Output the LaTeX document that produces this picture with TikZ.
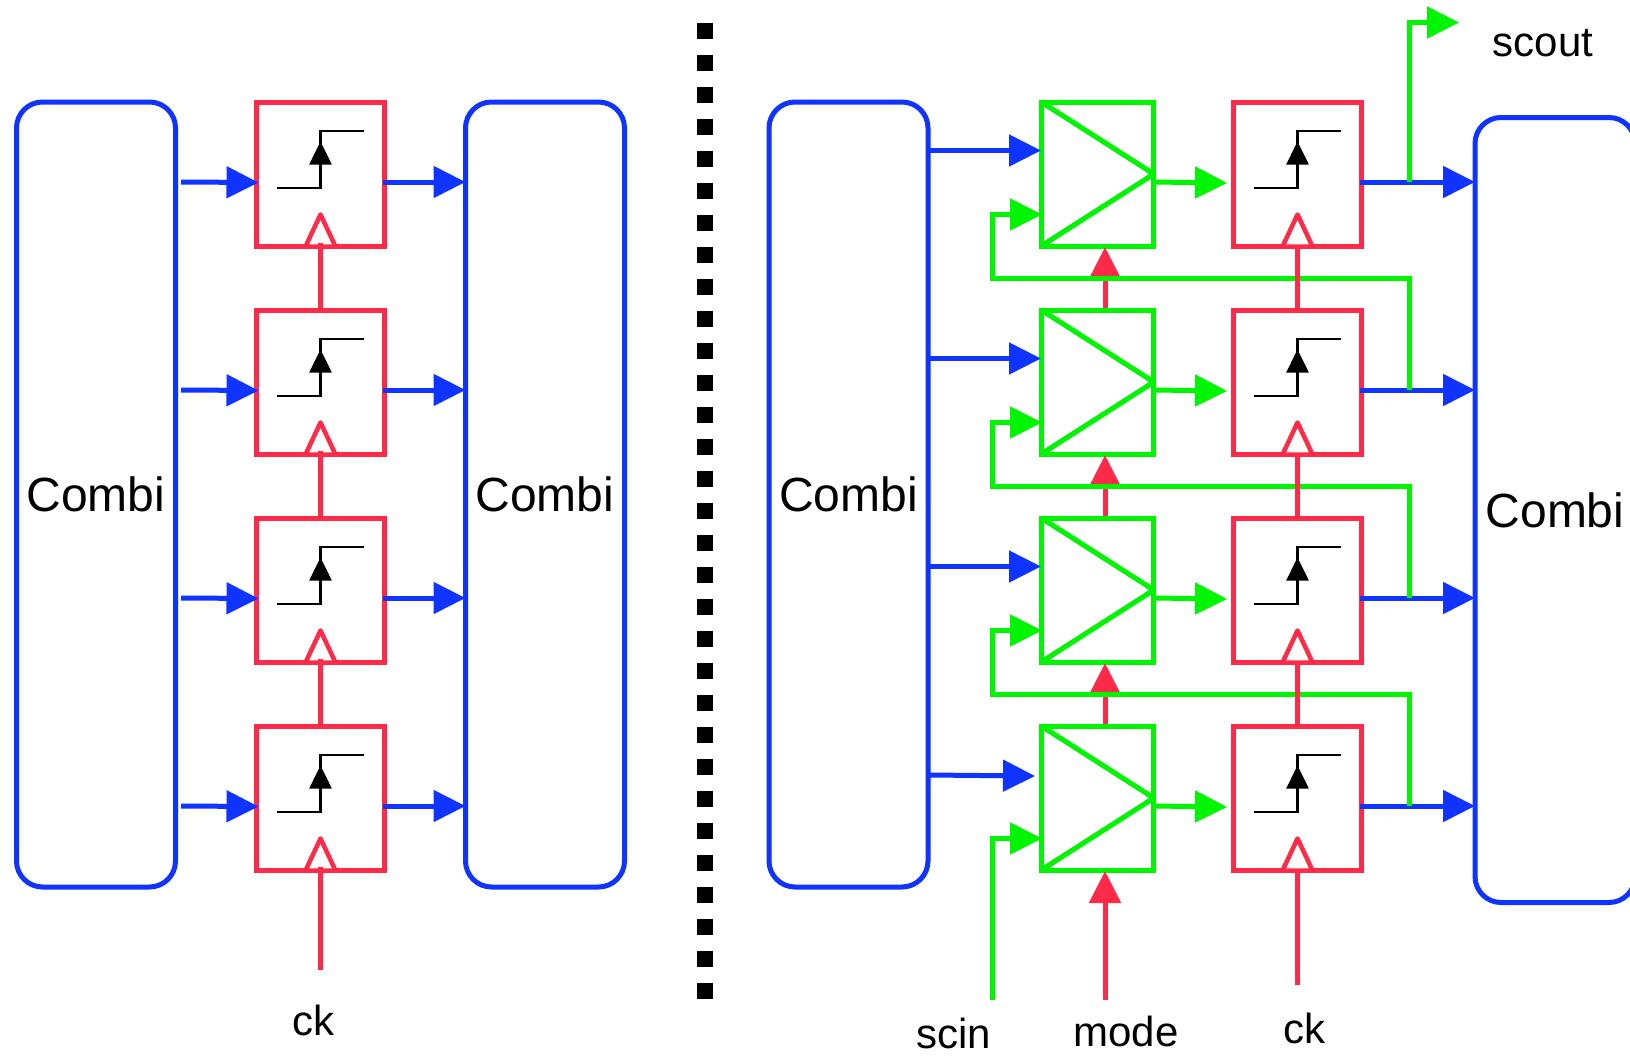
\documentclass[tikz,border=0pt]{standalone}
\usepackage{fontspec}
\setmainfont{Liberation Sans}
\usetikzlibrary{arrows.meta}
\definecolor{cblue}{RGB}{15,52,255}
\definecolor{cred}{RGB}{255,42,72}
\definecolor{cgreen}{RGB}{0,245,0}
\tikzset{
  wire/.style={line width=5pt,line cap=butt},
  tip/.style={-{Triangle[length=32pt,width=31pt]}},
  bluewire/.style={wire,draw=cblue},
  redwire/.style={wire,draw=cred},
  greenwire/.style={wire,draw=cgreen,line join=miter},
  combi/.style={draw=cblue,line width=5pt,rounded corners=26pt,minimum width=159pt,minimum height=785pt,inner sep=0pt,outer sep=0pt,font=\fontsize{48}{51}\selectfont},
  ffbox/.style={draw=cred,fill=white,line width=5.5pt,minimum width=128pt,minimum height=144pt,outer sep=0pt,inner sep=0pt},
  muxbox/.style={draw=cgreen,line width=5pt,minimum width=112.5pt,minimum height=144pt,outer sep=0pt,inner sep=0pt},
  label/.style={font=\fontsize{42}{45}\selectfont,inner sep=0pt},
  wave/.style={draw=black,line width=2.6pt},
  wavehead/.style={-{Triangle[length=23pt,width=22pt]}},
  clk/.style={draw=cred,fill=white,line width=4.5pt,line join=round},
}
\newcommand{\ffinside}[1]{%
  \coordinate (#1wa) at ([xshift=-43.5pt,yshift=-13.5pt]#1.center);
  \coordinate (#1wb) at ([yshift=-13.5pt]#1.center);
  \coordinate (#1wc) at ([yshift=43.5pt]#1.center);
  \coordinate (#1wd) at ([xshift=43.5pt,yshift=43.5pt]#1.center);
  \coordinate (#1we) at ([yshift=33pt]#1.center);
  \draw[wave,line join=miter] (#1wa) -- (#1wb) -- (#1wc) -- (#1wd);
  \draw[wave,wavehead] (#1wb) -- (#1we);
  \draw[clk] ([xshift=-15pt,yshift=-72pt]#1.center) -- ([yshift=-40pt]#1.center) -- ([xshift=15pt,yshift=-72pt]#1.center) -- cycle;
}
\begin{document}
\begin{tikzpicture}[x=1pt,y=-1pt]
\useasboundingbox (0,0) rectangle (1630,1055);
\clip (0,0) rectangle (1630,1055);
\fill[white] (0,0) rectangle (1630,1055);

% combinational blocks
\node[combi] (c1) at (96,494.5) {Combi};
\node[combi] (c2) at (545,494.5) {Combi};
\node[combi] (c3) at (848.5,494.5) {Combi};
\node[combi,minimum width=160pt] (c4) at (1555,510) {Combi};

% divider
\coordinate (da) at (705,23);
\coordinate (db) at (705,999);
\draw[black,line width=16.5pt,dash pattern=on 16pt off 16pt] (da) -- (db);

% left flip flops and their wiring
\foreach \r/\y in {1/174.5,2/382.5,3/590.5,4/798.5}{
  \node[ffbox] (f\r) at (320.5,\y) {};
  \ffinside{f\r}
  \coordinate (fin\r) at (181,\y+7.5);
  \draw[bluewire,tip] (fin\r) -- ([yshift=-8pt,xshift=2pt]f\r.west);
  \draw[bluewire,tip] ([yshift=-7.5pt,xshift=-2pt]f\r.east) -- (c2.west |- {0,\y+7.5});
}
\draw[redwire] ([yshift=4pt]f1.south) -- (f2.north);
\draw[redwire] ([yshift=4pt]f2.south) -- (f3.north);
\draw[redwire] ([yshift=4pt]f3.south) -- (f4.north);
\coordinate (ckl) at (320.5,970);
\draw[redwire] (ckl) -- ([yshift=4pt]f4.south);

% right muxes and flip flops
\foreach \r/\y in {1/174,2/382,3/590,4/798}{
  \node[muxbox] (m\r) at (1097.5,\y) {};
  \draw[draw=cgreen,line width=5pt,line join=round] (m\r.north west) -- (m\r.east) -- (m\r.south west);
}
\foreach \r/\y in {1/174.5,2/382.5,3/590.5,4/798.5}{
  \node[ffbox] (g\r) at (1297.5,\y) {};
  \coordinate (in\r) at (1042,\y+40);
  \coordinate (tap\r) at (1409.5,\y+7.5);
  \coordinate (mo\r) at (1227,\y+8.5);
  \draw[bluewire,tip] ([yshift=-7.5pt,xshift=-2pt]g\r.east) -- (c4.west |- {0,\y+7.5});
  \draw[greenwire,tip] ([yshift=-8pt]m\r.east) -- (mo\r);
}
\coordinate (sa1) at (c3.east |- {0,150.5});
\coordinate (sa2) at (c3.east |- {0,358.5});
\coordinate (sa3) at (c3.east |- {0,566.5});
\coordinate (sa4) at (c3.east |- {0,775});
\coordinate (ea1) at (1041,150.5);
\coordinate (ea2) at (1041,358.5);
\coordinate (ea3) at (1041,566.5);
\coordinate (ea4) at (1035,776);
\foreach \r in {1,2,3,4}{\draw[bluewire,tip] (sa\r) -- (ea\r);}

% mode lines
\coordinate (modein) at (1105,1000);
\draw[redwire,tip] (modein) -- (1105,871);
\draw[redwire,tip] (1105,724) -- (1105,663);
\draw[redwire,tip] (1105,516) -- (1105,455);
\draw[redwire,tip] (1105,308) -- (1105,247);

% scan chain
\coordinate (scin) at (992.5,1000);
\draw[greenwire,tip] (scin) |- (in4);
\coordinate (b1) at (992.5,278);
\coordinate (b2) at (992.5,486);
\coordinate (b3) at (992.5,694);
\draw[greenwire,tip] (tap2) |- (b1) -- (b1 |- in1) -- (in1);
\draw[greenwire,tip] (tap3) |- (b2) -- (b2 |- in2) -- (in2);
\draw[greenwire,tip] (tap4) |- (b3) -- (b3 |- in3) -- (in3);
\coordinate (so) at (1459,22.5);
\draw[greenwire,tip] (tap1) |- (so);

% flip flop symbols and clock of the right side
\draw[redwire] ([yshift=4pt]g1.south) -- (g2.north);
\draw[redwire] ([yshift=4pt]g2.south) -- (g3.north);
\draw[redwire] ([yshift=4pt]g3.south) -- (g4.north);
\coordinate (ckr) at (1297.5,985);
\draw[redwire] (ckr) -- ([yshift=4pt]g4.south);
\foreach \r in {1,2,3,4}{\ffinside{g\r}}

% labels
\node[label] (lck1) at (313,1020) {ck};
\node[label] (lscin) at (953.5,1033) {scin};
\node[label] (lmode) at (1126,1031) {mode};
\node[label] (lck2) at (1304,1028) {ck};
\node[label] (lscout) at (1543,43) {scout};
\end{tikzpicture}
\end{document}
